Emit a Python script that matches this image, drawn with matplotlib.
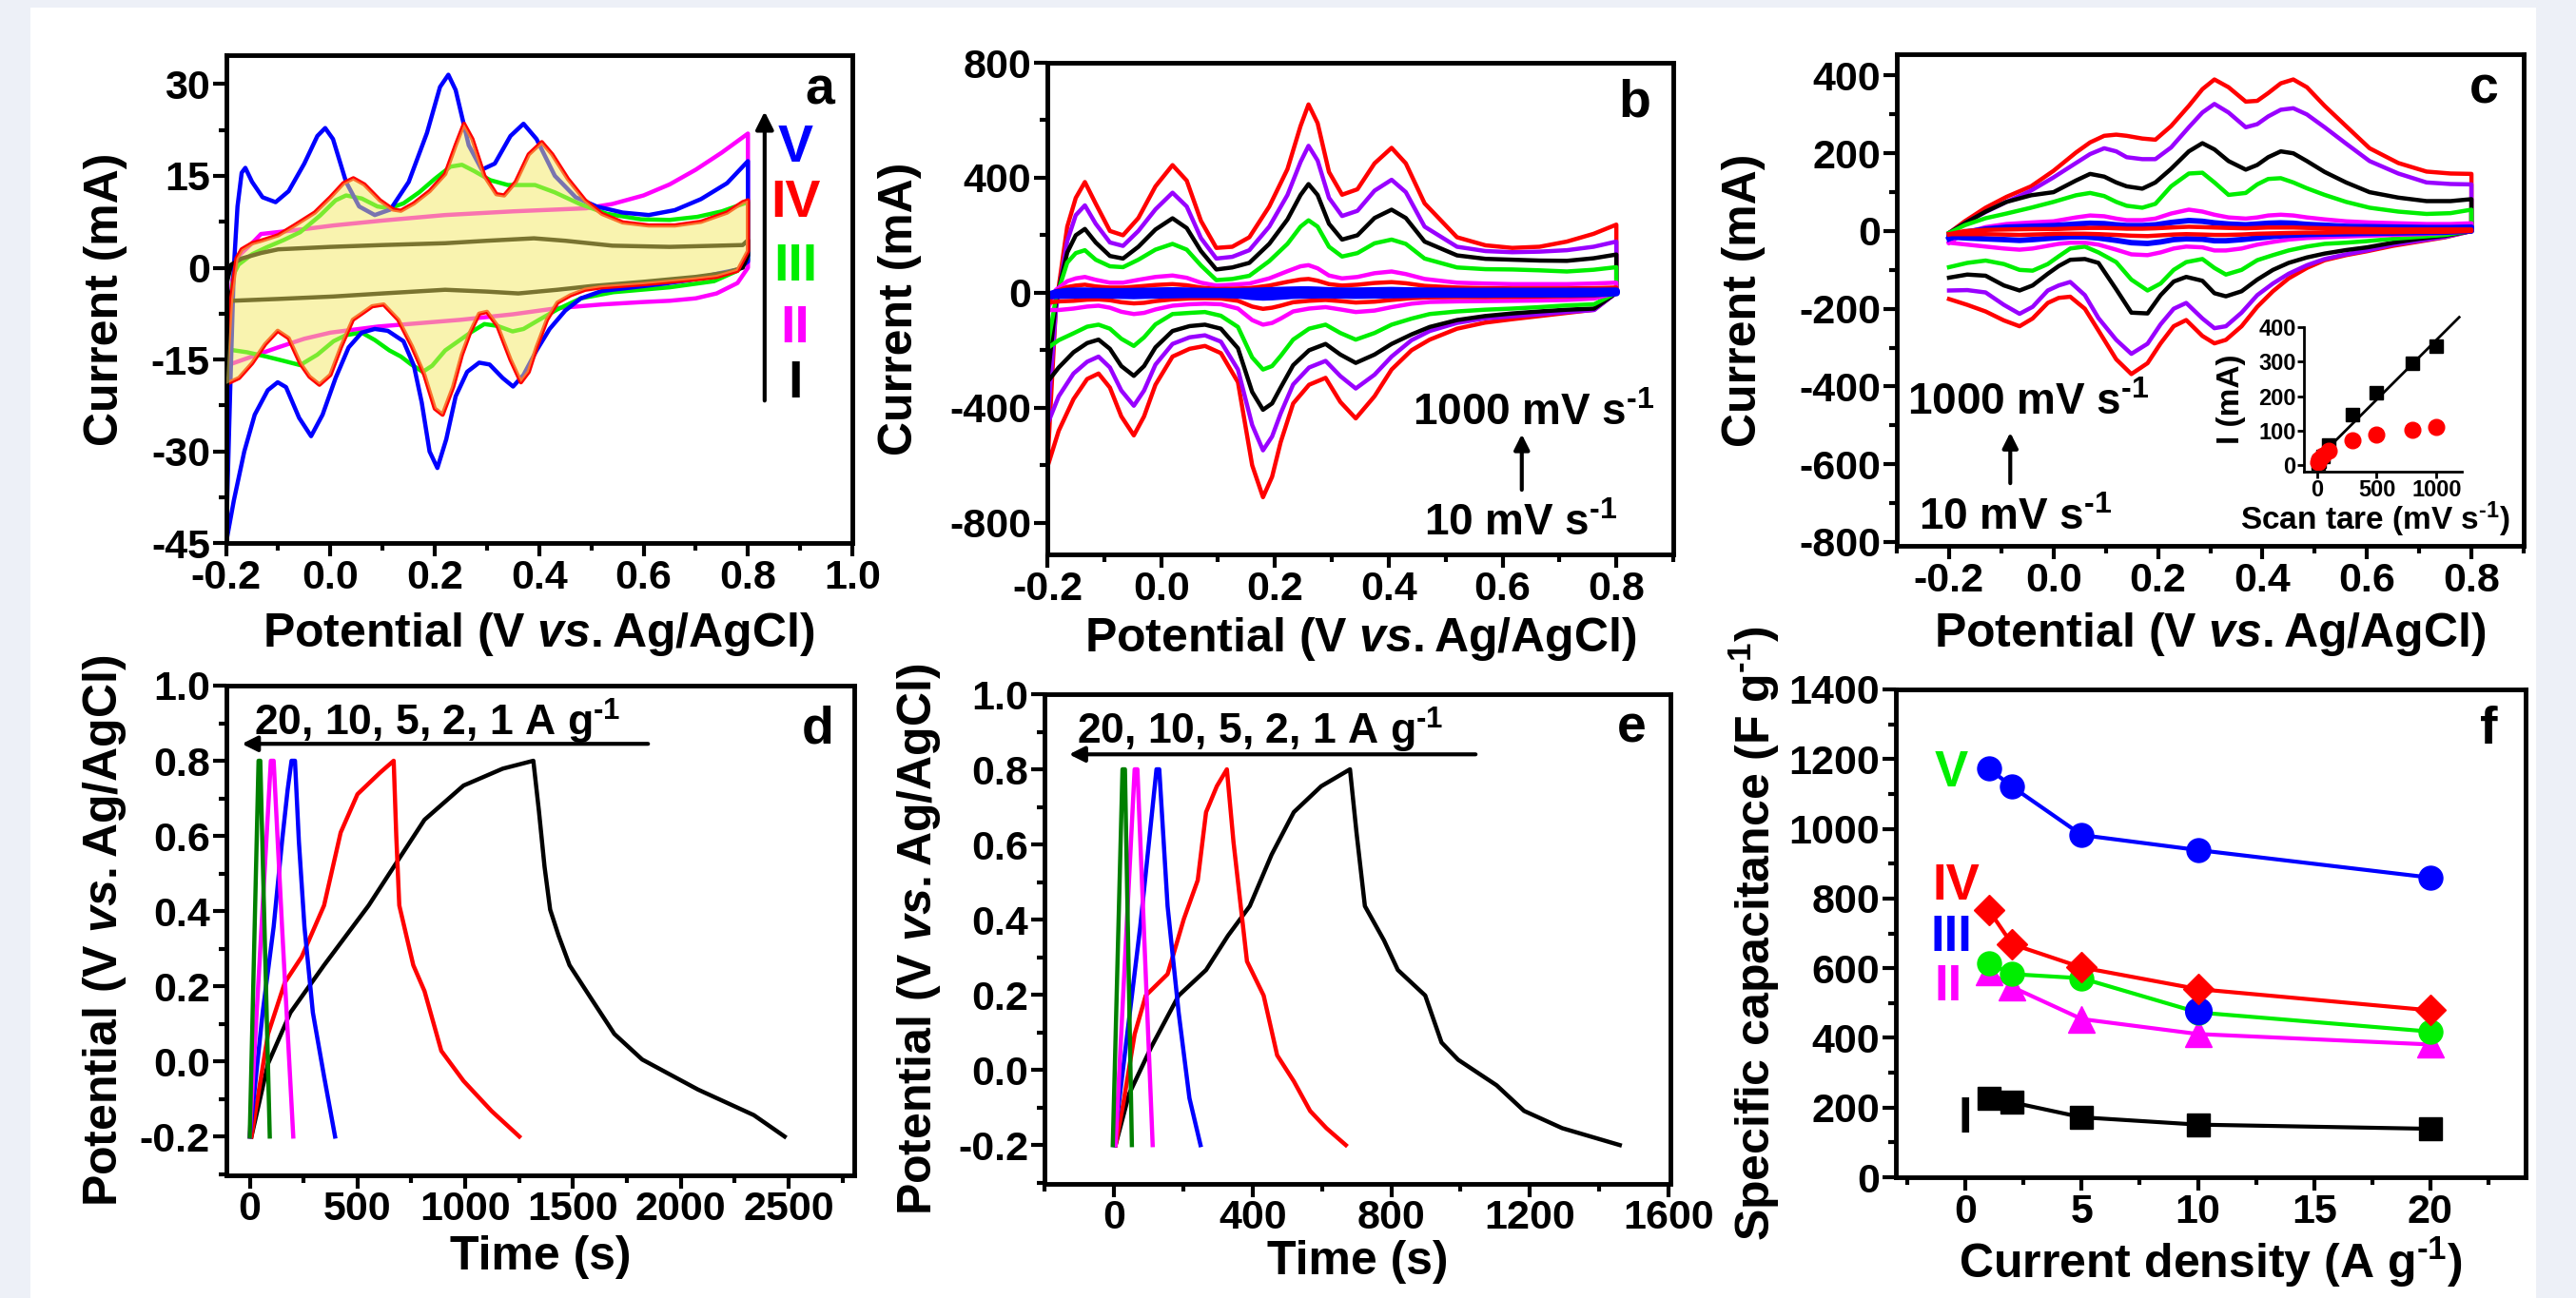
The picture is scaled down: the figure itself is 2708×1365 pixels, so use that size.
import numpy as np
import matplotlib
matplotlib.use('Agg')
import matplotlib.pyplot as plt
from matplotlib.ticker import MultipleLocator, FormatStrFormatter
from matplotlib.patches import Rectangle

# ---------------- Panel a : CV of samples I-V ----------------
a_V_E_up = [-0.200, -0.192, -0.185, -0.178, -0.170, -0.163, -0.150, -0.130, -0.105, -0.080, -0.050, -0.025, -0.010, 0.005, 0.030, 0.055, 0.085, 0.115, 0.150, 0.185, 0.210, 0.226, 0.240, 0.265, 0.290, 0.315, 0.345, 0.370, 0.395, 0.430, 0.470, 0.510, 0.560, 0.610, 0.660, 0.710, 0.760, 0.800]
a_V_I_up = [-45, -20, 0, 10, 15.5, 16.3, 14, 11.5, 10.7, 12.5, 17, 21.5, 22.8, 21, 14, 10, 8.6, 9.5, 14, 22, 29.5, 31.5, 29, 20, 16, 17, 21.5, 23.5, 21, 15, 11.5, 10, 9, 8.6, 9.4, 11.2, 13.8, 17.4]
a_V_E_dn = [0.800, 0.780, 0.740, 0.690, 0.640, 0.580, 0.520, 0.480, 0.450, 0.420, 0.395, 0.370, 0.350, 0.330, 0.305, 0.285, 0.262, 0.240, 0.222, 0.205, 0.190, 0.175, 0.160, 0.140, 0.110, 0.085, 0.060, 0.035, 0.010, -0.015, -0.037, -0.060, -0.085, -0.101, -0.120, -0.145, -0.165, -0.185, -0.200]
a_V_I_dn = [1.0, -0.3, -1.0, -2.0, -2.6, -3.2, -3.8, -5.0, -7.0, -10.0, -13.5, -17.5, -19.4, -18, -15.8, -15.5, -17, -21, -28, -32.7, -30, -22, -16, -12, -10.3, -10, -10.6, -13, -18, -24, -27.5, -24.5, -19.5, -18.7, -20, -24, -30, -38, -45]

a_IV_E_up = [-0.200, -0.190, -0.180, -0.170, -0.150, -0.133, -0.100, -0.069, -0.030, 0.000, 0.025, 0.044, 0.065, 0.095, 0.120, 0.135, 0.160, 0.190, 0.220, 0.240, 0.256, 0.272, 0.295, 0.318, 0.333, 0.355, 0.380, 0.405, 0.425, 0.455, 0.488, 0.520, 0.560, 0.610, 0.660, 0.710, 0.760, 0.790, 0.800]
a_IV_I_up = [-19, -5, 1.5, 3, 4.0, 4.4, 5.3, 6.9, 9, 11.5, 13.8, 14.6, 13.6, 11, 9.5, 9.3, 10.5, 12.5, 15.3, 20, 23.5, 21, 15, 12, 11.8, 14, 18.5, 20.5, 18.5, 14.5, 11, 8.8, 7.4, 6.9, 6.9, 7.5, 9.0, 10.7, 11]
a_IV_E_dn = [0.800, 0.780, 0.740, 0.700, 0.600, 0.520, 0.488, 0.460, 0.435, 0.415, 0.395, 0.380, 0.365, 0.345, 0.320, 0.300, 0.285, 0.268, 0.252, 0.235, 0.215, 0.200, 0.180, 0.156, 0.130, 0.102, 0.080, 0.060, 0.043, 0.020, 0.000, -0.021, -0.040, -0.058, -0.080, -0.101, -0.125, -0.150, -0.175, -0.200]
a_IV_I_dn = [2.7, -0.5, -1.5, -1.9, -2.7, -3.2, -3.6, -4.5, -5.7, -8.5, -13, -17, -18.7, -15, -9.5, -7.2, -7.5, -10.5, -14.2, -19.5, -24, -23, -17.5, -12.8, -8.5, -6, -6.3, -7.5, -8.5, -13, -17.5, -19.1, -17.8, -15.6, -11.5, -10.3, -12.5, -15.6, -18, -19]

a_III_E_up = [-0.200, -0.192, -0.185, -0.176, -0.150, -0.123, -0.090, -0.058, -0.020, 0.010, 0.030, 0.060, 0.090, 0.113, 0.140, 0.170, 0.200, 0.230, 0.252, 0.275, 0.306, 0.340, 0.392, 0.430, 0.478, 0.530, 0.595, 0.650, 0.703, 0.750, 0.800]
a_III_I_up = [-13.3, -6, -1, 0.5, 2.2, 3.3, 4.5, 5.8, 8.5, 11, 11.8, 11.3, 10.0, 9.7, 10.5, 12.3, 14.5, 16.5, 16.8, 15.8, 14.3, 13.5, 13.5, 12.3, 10.4, 8.8, 7.9, 7.8, 8.3, 9.2, 10.7]
a_III_E_dn = [0.800, 0.780, 0.735, 0.650, 0.542, 0.480, 0.435, 0.400, 0.370, 0.349, 0.320, 0.295, 0.270, 0.245, 0.220, 0.195, 0.177, 0.155, 0.135, 0.113, 0.085, 0.060, 0.030, 0.006, -0.025, -0.058, -0.090, -0.123, -0.160, -0.200]
a_III_I_dn = [1.3, -0.5, -2.2, -3.2, -4.0, -5.0, -6.8, -8.5, -10.0, -10.4, -9.5, -9.2, -10.5, -12.0, -13.5, -16, -17, -15.8, -14.5, -13.5, -11.8, -10.6, -11.0, -12, -14.2, -15.9, -15.2, -14.5, -13.8, -13.3]

a_II_E_up = [-0.200, -0.195, -0.188, -0.175, -0.150, -0.133, -0.050, 0.006, 0.100, 0.220, 0.350, 0.490, 0.540, 0.600, 0.650, 0.700, 0.750, 0.800]
a_II_I_up = [-16, -8, -2, 2, 4.0, 5.5, 6.3, 6.9, 7.7, 8.6, 9.2, 9.7, 10.4, 11.8, 13.6, 16.0, 18.8, 21.9]
a_II_E_dn = [0.800, 0.780, 0.740, 0.700, 0.650, 0.600, 0.520, 0.435, 0.350, 0.250, 0.092, 0.000, -0.050, -0.100, -0.150, -0.200]
a_II_I_dn = [0.0, -2.5, -4.2, -5.0, -5.4, -5.6, -6.0, -6.6, -7.6, -8.5, -9.6, -10.6, -11.6, -13, -14.5, -16]

a_I_E_up = [-0.200, -0.190, -0.170, -0.133, -0.100, 0.000, 0.100, 0.220, 0.300, 0.390, 0.450, 0.540, 0.650, 0.790, 0.800]
a_I_I_up = [-3, 0.5, 1.5, 2.4, 3.0, 3.4, 3.7, 4.0, 4.4, 4.8, 4.4, 3.6, 3.4, 3.7, 4.5]
a_I_E_dn = [0.800, 0.790, 0.760, 0.700, 0.600, 0.500, 0.435, 0.360, 0.300, 0.220, 0.100, 0.006, -0.100, -0.190, -0.200]
a_I_I_dn = [2.0, 0.0, -0.8, -1.5, -2.3, -3.0, -3.6, -4.2, -3.9, -3.6, -4.2, -4.7, -5.1, -5.4, -3]

a_labels = ['V', 'IV', 'III', 'II', 'I']

# ---------------- Panel b : CV at scan rates ----------------
b_E_up = [-0.200, -0.185, -0.165, -0.150, -0.134, -0.115, -0.090, -0.067, -0.040, -0.010, 0.020, 0.045, 0.070, 0.097, 0.125, 0.155, 0.190, 0.222, 0.245, 0.259, 0.275, 0.295, 0.318, 0.345, 0.375, 0.405, 0.430, 0.463, 0.520, 0.570, 0.617, 0.665, 0.713, 0.760, 0.800]
b_E_dn = [0.800, 0.761, 0.713, 0.665, 0.617, 0.569, 0.520, 0.472, 0.440, 0.405, 0.375, 0.342, 0.315, 0.289, 0.260, 0.232, 0.210, 0.195, 0.179, 0.160, 0.135, 0.105, 0.077, 0.050, 0.020, -0.010, -0.030, -0.048, -0.070, -0.090, -0.110, -0.130, -0.154, -0.180, -0.200]
b_red_up = [-607, -50, 230, 330, 385, 310, 215, 200, 260, 370, 444, 390, 250, 156, 160, 193, 300, 430, 580, 655, 590, 420, 341, 360, 450, 504, 450, 311, 193, 165, 156, 160, 178, 205, 237]
b_red_dn = [0, -59, -70, -81, -92, -104, -125, -163, -200, -267, -360, -437, -380, -296, -320, -385, -520, -640, -711, -600, -311, -210, -185, -195, -222, -320, -430, -496, -430, -330, -281, -300, -370, -480, -607]
b_pur_up = [-459, -60, 180, 270, 304, 240, 175, 163, 215, 290, 348, 300, 190, 119, 125, 148, 230, 340, 455, 511, 460, 330, 267, 285, 355, 393, 350, 230, 160, 145, 141, 143, 148, 160, 178]
b_pur_dn = [0, -60, -67, -75, -82, -89, -105, -133, -165, -222, -285, -333, -290, -237, -260, -319, -420, -500, -548, -460, -267, -170, -148, -155, -178, -250, -340, -393, -340, -260, -222, -240, -281, -360, -459]
b_blk_up = [-311, -30, 140, 200, 222, 175, 128, 119, 160, 220, 259, 225, 145, 81, 88, 104, 170, 255, 340, 378, 340, 240, 185, 200, 260, 289, 260, 178, 130, 118, 115, 112, 111, 120, 133]
b_blk_dn = [0, -55, -59, -65, -72, -81, -95, -119, -145, -178, -215, -244, -215, -178, -200, -252, -330, -385, -407, -345, -193, -125, -111, -116, -133, -190, -255, -289, -255, -195, -163, -175, -207, -260, -311]
b_grn_up = [-193, -20, 105, 138, 148, 115, 92, 89, 115, 150, 170, 150, 95, 44, 48, 59, 110, 170, 230, 252, 230, 160, 126, 138, 172, 185, 170, 119, 88, 82, 81, 78, 74, 80, 89]
b_grn_dn = [0, -40, -44, -50, -55, -59, -65, -74, -90, -111, -140, -163, -140, -111, -125, -163, -220, -255, -267, -225, -119, -80, -67, -70, -74, -110, -155, -185, -160, -125, -111, -118, -141, -165, -193]
b_mag_up = [-60, 10, 40, 50, 55, 45, 35, 35, 45, 55, 60, 52, 35, 25, 28, 32, 50, 75, 92, 96, 85, 60, 50, 55, 68, 74, 65, 48, 35, 32, 30, 30, 30, 32, 35]
b_mag_dn = [0, -20, -25, -27, -28, -29, -30, -32, -38, -50, -62, -67, -58, -50, -55, -65, -90, -105, -111, -95, -55, -40, -38, -40, -45, -58, -70, -74, -66, -52, -45, -48, -55, -60, -60]
b_rs_up = [-35, 5, 20, 25, 28, 22, 18, 18, 22, 27, 30, 26, 18, 13, 14, 16, 25, 38, 46, 48, 42, 30, 25, 28, 34, 37, 33, 24, 18, 16, 15, 15, 15, 16, 18]
b_rs_dn = [0, -10, -12, -13, -14, -15, -15, -16, -19, -25, -31, -34, -29, -25, -28, -33, -45, -52, -56, -48, -28, -20, -19, -20, -23, -29, -35, -37, -33, -26, -23, -24, -28, -30, -35]
b_blu_up = [-10, 0, 5, 6, 6, 5, 4, 4, 5, 6, 7, 6, 5, 4, 4, 5, 7, 9, 10, 10, 9, 7, 6, 6, 7, 8, 7, 6, 5, 5, 5, 5, 5, 5, 6]
b_blu_dn = [0, -3, -4, -4, -4, -5, -5, -5, -6, -7, -8, -9, -8, -7, -8, -9, -12, -14, -15, -13, -8, -6, -6, -6, -7, -8, -9, -10, -9, -8, -7, -7, -8, -9, -10]

# ---------------- Panel c : CV at scan rates ----------------
c_E_up = [-0.200, -0.170, -0.130, -0.090, -0.043, 0.000, 0.043, 0.070, 0.097, 0.120, 0.140, 0.170, 0.195, 0.225, 0.259, 0.285, 0.308, 0.335, 0.368, 0.390, 0.411, 0.435, 0.459, 0.485, 0.519, 0.560, 0.605, 0.660, 0.714, 0.760, 0.800]
c_E_dn = [0.800, 0.750, 0.700, 0.650, 0.600, 0.560, 0.519, 0.485, 0.450, 0.420, 0.390, 0.360, 0.330, 0.308, 0.285, 0.254, 0.230, 0.205, 0.180, 0.149, 0.120, 0.086, 0.060, 0.032, 0.010, -0.011, -0.040, -0.065, -0.095, -0.130, -0.165, -0.200]
c_red_up = [-5, 25, 60, 88, 115, 155, 202, 228, 245, 248, 245, 238, 235, 270, 322, 365, 390, 370, 333, 335, 355, 380, 390, 370, 322, 270, 213, 175, 153, 148, 147]
c_red_dn = [0, -16, -27, -38, -52, -62, -75, -95, -122, -155, -195, -245, -280, -289, -270, -229, -245, -289, -340, -368, -330, -256, -200, -169, -172, -185, -225, -245, -230, -207, -190, -175]
c_pur_up = [-5, 20, 49, 75, 104, 138, 175, 198, 213, 205, 190, 185, 185, 215, 267, 305, 327, 305, 267, 275, 295, 312, 316, 300, 267, 225, 180, 148, 125, 121, 120]
c_pur_dn = [0, -15, -25, -35, -50, -60, -72, -88, -110, -135, -165, -210, -245, -250, -225, -185, -200, -240, -290, -316, -280, -224, -165, -131, -140, -153, -195, -213, -190, -158, -152, -153]
c_blk_up = [-5, 20, 50, 75, 92, 100, 130, 147, 140, 125, 115, 109, 125, 160, 205, 226, 210, 180, 158, 170, 190, 205, 200, 180, 152, 125, 100, 86, 77, 77, 82]
c_blk_dn = [0, -12, -20, -30, -42, -49, -58, -68, -82, -100, -125, -155, -168, -160, -128, -118, -130, -165, -212, -210, -150, -82, -72, -74, -90, -110, -140, -153, -140, -115, -112, -120]
c_grn_up = [-5, 15, 33, 45, 60, 75, 92, 98, 90, 75, 65, 60, 70, 115, 148, 150, 125, 93, 98, 120, 134, 136, 125, 110, 93, 75, 60, 50, 44, 46, 55]
c_grn_dn = [0, -10, -15, -20, -26, -30, -33, -40, -50, -62, -75, -100, -112, -95, -72, -80, -100, -135, -153, -125, -80, -55, -40, -45, -65, -85, -102, -100, -85, -76, -82, -93]
c_mag_up = [-30, -5, 10, 18, 22, 25, 35, 40, 38, 32, 28, 28, 32, 45, 55, 50, 42, 35, 32, 35, 40, 42, 40, 35, 30, 25, 22, 20, 18, 18, 20]
c_mag_dn = [0, -5, -8, -10, -12, -14, -16, -18, -22, -28, -35, -45, -50, -50, -42, -40, -45, -55, -62, -60, -48, -35, -30, -30, -33, -38, -45, -48, -45, -40, -35, -30]
c_blu_up = [-20, -3, 5, 10, 12, 14, 18, 20, 19, 16, 14, 14, 16, 22, 27, 25, 21, 18, 16, 18, 20, 21, 20, 17, 15, 12, 11, 10, 9, 9, 10]
c_blu_dn = [0, -3, -4, -5, -6, -7, -8, -9, -11, -14, -18, -22, -25, -25, -21, -20, -22, -28, -32, -30, -24, -18, -15, -15, -17, -19, -22, -24, -22, -20, -18, -15]
c_rs_up = [-8, 0, 3, 4, 5, 5, 7, 8, 8, 7, 6, 6, 7, 9, 11, 10, 9, 8, 7, 8, 9, 9, 9, 8, 7, 6, 5, 4, 4, 4, 4]
c_rs_dn = [0, -2, -2, -3, -3, -3, -4, -4, -5, -6, -7, -9, -10, -10, -9, -8, -9, -11, -13, -12, -10, -8, -7, -7, -7, -8, -9, -10, -9, -8, -8, -8]

# inset of panel c
c_scan = [10, 20, 50, 100, 300, 500, 800, 1000]
c_peak_black = [8, 12, 25, 60, 148, 209, 295, 345]
c_peak_red = [10, 18, 30, 43, 74, 90, 102, 111]

# ---------------- Panel d : GCD ----------------
d_t_k = [8, 85, 189, 345, 552, 655, 811, 992, 1174, 1316, 1342, 1368, 1394, 1433, 1484, 1588, 1692, 1821, 2080, 2339, 2482]
d_V_k = [-0.2, -0.006, 0.130, 0.256, 0.415, 0.506, 0.643, 0.734, 0.779, 0.8, 0.666, 0.518, 0.404, 0.335, 0.256, 0.164, 0.073, 0.005, -0.075, -0.143, -0.2]
d_t_r = [8, 85, 163, 241, 345, 422, 500, 604, 668, 680, 694, 759, 811, 889, 992, 1122, 1251]
d_V_r = [-0.2, 0.073, 0.210, 0.278, 0.415, 0.609, 0.711, 0.768, 0.8, 0.6, 0.415, 0.256, 0.187, 0.028, -0.052, -0.132, -0.2]
d_t_b = [0, 60, 111, 150, 176, 194, 210, 228, 254, 293, 345, 396]
d_V_b = [-0.2, 0.13, 0.358, 0.586, 0.723, 0.8, 0.8, 0.586, 0.358, 0.13, -0.04, -0.2]
d_t_m = [0, 98, 111, 150, 202]
d_V_m = [-0.2, 0.8, 0.8, 0.358, -0.2]
d_t_g = [0, 41, 49, 93]
d_V_g = [-0.2, 0.8, 0.8, -0.2]

# ---------------- Panel e : GCD ----------------
e_t_k = [5, 44, 108, 187, 266, 329, 392, 455, 519, 598, 681, 700, 724, 779, 819, 898, 945, 993, 1104, 1183, 1293, 1459]
e_V_k = [-0.2, -0.064, 0.061, 0.198, 0.266, 0.357, 0.436, 0.573, 0.686, 0.755, 0.8, 0.63, 0.436, 0.345, 0.266, 0.198, 0.073, 0.027, -0.041, -0.109, -0.155, -0.2]
e_t_r = [5, 28, 60, 92, 155, 202, 242, 266, 297, 326, 345, 384, 432, 471, 519, 566, 613, 669]
e_V_r = [-0.2, -0.086, 0.095, 0.198, 0.255, 0.402, 0.505, 0.686, 0.755, 0.8, 0.607, 0.289, 0.198, 0.039, -0.03, -0.109, -0.155, -0.2]
e_t_b = [0, 76, 123, 131, 155, 187, 218, 250]
e_V_b = [-0.2, 0.38, 0.8, 0.8, 0.436, 0.152, -0.075, -0.2]
e_t_m = [5, 60, 68, 112]
e_V_m = [-0.2, 0.8, 0.8, -0.2]
e_t_g = [-3, 25, 32, 52]
e_V_g = [-0.2, 0.8, 0.8, -0.2]

# ---------------- Panel f : specific capacitance ----------------
f_cd = [1, 2, 5, 10, 20]
f_V = [1173, 1121, 982, 939, 860]
f_IV = [767, 669, 602, 540, 479]
f_III = [614, 583, 571, 473, 418]
f_II = [590, 546, 454, 411, 381]
f_I = [227, 215, 172, 151, 139]
f_extra_x = [10]
f_extra_y = [478]

# ====================== drawing ======================
plt.rcParams.update({
    'font.family': ['Liberation Sans', 'DejaVu Sans'],
    'font.weight': 'bold',
    'axes.labelweight': 'bold',
    'axes.unicode_minus': False,
    'mathtext.fontset': 'custom',
    'mathtext.rm': 'Liberation Sans:bold',
    'mathtext.it': 'Liberation Sans:italic:bold',
    'mathtext.bf': 'Liberation Sans:bold',
    'mathtext.default': 'rm',
})

W, H = 2708, 1365
fig = plt.figure(figsize=(W / 100, H / 100), dpi=100)
fig.patch.set_facecolor('#edf0f7')
fig.add_artist(Rectangle((32 / W, 0), (2666 - 32) / W, 1 - 8 / H, transform=fig.transFigure,
                         facecolor='white', edgecolor='none', zorder=-10))

TICK_FS = 31
LAB_FS = 36
LW = 3.2
INV = '$^{\\text{-}1}$'


def make_ax(l, t, r, b):
    ax = fig.add_axes([l / W, 1 - b / H, (r - l) / W, (b - t) / H])
    for s in ax.spines.values():
        s.set_linewidth(3.5)
    ax.tick_params(which='both', direction='out', top=False, right=False, width=3,
                   labelsize=TICK_FS, pad=2)
    ax.tick_params(which='major', length=10)
    ax.tick_params(which='minor', length=6)
    return ax


def labels(ax, xl, yl, xy, yx):
    ax.set_xlabel(xl, fontsize=LAB_FS)
    ax.set_ylabel(yl, fontsize=LAB_FS)
    ax.xaxis.set_label_coords(0.5, xy)
    ax.yaxis.set_label_coords(yx, 0.5)
    ax.xaxis.label.set_va('center')
    ax.yaxis.label.set_va('center')


def letter(ax, s, x, y):
    ax.text(x, y, s, transform=ax.transAxes, fontsize=40, ha='center', va='center')


POT = 'Potential (V $\\mathit{vs.}$Ag/AgCl)'

# ----- a -----
ax = make_ax(237.6, 58, 896, 571.4)
ax.plot(a_II_E_up + a_II_E_dn, a_II_I_up + a_II_I_dn, color='#ff00ff', lw=LW)
ax.plot(a_III_E_up + a_III_E_dn, a_III_I_up + a_III_I_dn, color='#00ee00', lw=LW)
ax.plot(a_V_E_up + a_V_E_dn, a_V_I_up + a_V_I_dn, color='#0000ff', lw=LW)
ax.plot(a_I_E_up + a_I_E_dn, a_I_I_up + a_I_I_dn, color='black', lw=LW)
ax.plot(a_IV_E_up + a_IV_E_dn, a_IV_I_up + a_IV_I_dn, color='#ff0000', lw=LW)
ax.fill(a_IV_E_up + a_IV_E_dn, a_IV_I_up + a_IV_I_dn, facecolor='#f4e860', alpha=0.5,
        edgecolor='none', zorder=3)
ax.set_xlim(-0.2, 1.0)
ax.set_ylim(-45, 34.7)
ax.xaxis.set_major_locator(MultipleLocator(0.2))
ax.xaxis.set_minor_locator(MultipleLocator(0.1))
ax.xaxis.set_major_formatter(FormatStrFormatter('%.1f'))
ax.yaxis.set_major_locator(MultipleLocator(15))
ax.yaxis.set_minor_locator(MultipleLocator(7.5))
labels(ax, POT, 'Current (mA)', -0.186, -0.193)
letter(ax, 'a', 0.948, 0.926)
a_cols = ['#0000ff', '#ff0000', '#00ee00', '#ff00ff', 'black']
a_ys = [0.809, 0.696, 0.565, 0.439, 0.326]
for lab, c, yy in zip(a_labels, a_cols, a_ys):
    ax.text(0.909, yy, lab, color=c, transform=ax.transAxes, fontsize=40, ha='center', va='center')
ax.annotate('', xy=(0.86, 0.89), xytext=(0.86, 0.287), xycoords='axes fraction',
            arrowprops=dict(arrowstyle='-|>', lw=3, color='black', mutation_scale=28))

# ----- b -----
ax = make_ax(1101, 66, 1759, 583)
for up, dn, c, lw in [(b_red_up, b_red_dn, '#ff0000', LW), (b_pur_up, b_pur_dn, '#9900ff', LW),
                      (b_blk_up, b_blk_dn, 'black', LW), (b_grn_up, b_grn_dn, '#00ee00', LW),
                      (b_mag_up, b_mag_dn, '#ff00ff', LW), (b_rs_up, b_rs_dn, '#ff0000', LW),
                      (b_blu_up, b_blu_dn, '#0000ff', 5.5)]:
    ax.plot(b_E_up + b_E_dn, up + dn, color=c, lw=lw)
ax.set_xlim(-0.2, 0.9)
ax.set_ylim(-910, 800)
ax.xaxis.set_major_locator(MultipleLocator(0.2))
ax.xaxis.set_minor_locator(MultipleLocator(0.1))
ax.xaxis.set_major_formatter(FormatStrFormatter('%.1f'))
ax.yaxis.set_major_locator(MultipleLocator(400))
ax.yaxis.set_minor_locator(MultipleLocator(200))
labels(ax, POT, 'Current (mA)', -0.172, -0.236)
letter(ax, 'b', 0.938, 0.917)
ax.text(0.584, 0.286, '1000 mV s' + INV, transform=ax.transAxes, fontsize=33, ha='left', va='center')
ax.text(0.602, 0.062, '10 mV s' + INV, transform=ax.transAxes, fontsize=33, ha='left', va='center')
ax.annotate('', xy=(0.758, 0.25), xytext=(0.758, 0.126), xycoords='axes fraction',
            arrowprops=dict(arrowstyle='-|>', lw=3, color='black', mutation_scale=24))

# ----- c -----
ax = make_ax(1994, 57, 2653, 574)
for up, dn, c, lw in [(c_red_up, c_red_dn, '#ff0000', LW), (c_pur_up, c_pur_dn, '#9900ff', LW),
                      (c_blk_up, c_blk_dn, 'black', LW), (c_grn_up, c_grn_dn, '#00ee00', LW),
                      (c_mag_up, c_mag_dn, '#ff00ff', LW), (c_blu_up, c_blu_dn, '#0000ff', LW + 1),
                      (c_rs_up, c_rs_dn, '#ff0000', LW)]:
    ax.plot(c_E_up + c_E_dn, up + dn, color=c, lw=lw)
ax.set_xlim(-0.3, 0.9)
ax.set_ylim(-810, 455)
ax.set_xticks([-0.2, 0.0, 0.2, 0.4, 0.6, 0.8])
ax.xaxis.set_minor_locator(MultipleLocator(0.1))
ax.xaxis.set_major_formatter(FormatStrFormatter('%.1f'))
ax.yaxis.set_major_locator(MultipleLocator(200))
ax.yaxis.set_minor_locator(MultipleLocator(100))
labels(ax, POT, 'Current (mA)', -0.18, -0.245)
letter(ax, 'c', 0.936, 0.928)
ax.text(0.017, 0.29, '1000 mV s' + INV, transform=ax.transAxes, fontsize=33, ha='left', va='center')
ax.text(0.035, 0.056, '10 mV s' + INV, transform=ax.transAxes, fontsize=33, ha='left', va='center')
ax.annotate('', xy=(0.181, 0.236), xytext=(0.181, 0.122), xycoords='axes fraction',
            arrowprops=dict(arrowstyle='-|>', lw=3, color='black', mutation_scale=24))

ins = fig.add_axes([2422 / W, 1 - 496 / H, (2588 - 2422) / W, (496 - 344) / H])
ins.patch.set_alpha(0)
for s in ['top', 'right']:
    ins.spines[s].set_visible(False)
for s in ['left', 'bottom']:
    ins.spines[s].set_linewidth(2)
ins.tick_params(direction='out', length=5, width=2, labelsize=17, pad=1)
p = np.polyfit(c_scan, c_peak_black, 1)
xx = np.array([-40, 1190])
ins.plot(xx, np.polyval(p, xx), color='black', lw=2, clip_on=False)
ins.plot(c_scan, c_peak_black, 's', color='black', ms=10, clip_on=False)
ins.plot(c_scan, c_peak_red, 'o', color='#ff0000', ms=12, clip_on=False)
ins.set_xlim(-108, 1212)
ins.set_ylim(-18, 400)
ins.set_xticks([0, 500, 1000])
ins.set_yticks([0, 100, 200, 300, 400])
ins.set_xlabel('Scan tare (mV s' + INV + ')', fontsize=24)
ins.set_ylabel('I (mA)', fontsize=24)
ins.xaxis.set_label_coords(0.45, -0.33)
ins.yaxis.set_label_coords(-0.46, 0.5)
ins.xaxis.label.set_va('center')
ins.yaxis.label.set_va('center')

# ----- d -----
GCD_A = '20, 10, 5, 2, 1 A g' + INV
ax = make_ax(237.6, 721, 898, 1235.5)
ax.plot(d_t_k, d_V_k, color='black', lw=LW)
ax.plot(d_t_r, d_V_r, color='#ff0000', lw=LW)
ax.plot(d_t_b, d_V_b, color='#0000ff', lw=LW)
ax.plot(d_t_m, d_V_m, color='#ff00ff', lw=LW)
ax.plot(d_t_g, d_V_g, color='#008000', lw=LW)
ax.set_xlim(-110, 2805)
ax.set_ylim(-0.302, 1.0)
ax.xaxis.set_major_locator(MultipleLocator(500))
ax.xaxis.set_minor_locator(MultipleLocator(250))
ax.yaxis.set_major_locator(MultipleLocator(0.2))
ax.yaxis.set_minor_locator(MultipleLocator(0.1))
ax.yaxis.set_major_formatter(FormatStrFormatter('%.1f'))
labels(ax, 'Time (s)', POT, -0.168, -0.193)
letter(ax, 'd', 0.942, 0.909)
ax.text(0.044, 0.926, GCD_A, transform=ax.transAxes, fontsize=32, ha='left', va='center')
ax.annotate('', xy=(0.021, 0.881), xytext=(0.676, 0.881), xycoords='axes fraction',
            arrowprops=dict(arrowstyle='-|>', lw=3, color='black', mutation_scale=24))

# ----- e -----
ax = make_ax(1098, 730, 1756, 1244.5)
ax.plot(e_t_k, e_V_k, color='black', lw=LW)
ax.plot(e_t_r, e_V_r, color='#ff0000', lw=LW)
ax.plot(e_t_b, e_V_b, color='#0000ff', lw=LW)
ax.plot(e_t_m, e_V_m, color='#ff00ff', lw=LW)
ax.plot(e_t_g, e_V_g, color='#008000', lw=LW)
ax.set_xlim(-200, 1605)
ax.set_ylim(-0.302, 1.0)
ax.xaxis.set_major_locator(MultipleLocator(400))
ax.xaxis.set_minor_locator(MultipleLocator(200))
ax.yaxis.set_major_locator(MultipleLocator(0.2))
ax.yaxis.set_minor_locator(MultipleLocator(0.1))
ax.yaxis.set_major_formatter(FormatStrFormatter('%.1f'))
labels(ax, 'Time (s)', POT, -0.16, -0.20)
letter(ax, 'e', 0.938, 0.93)
ax.text(0.052, 0.926, GCD_A, transform=ax.transAxes, fontsize=32, ha='left', va='center')
ax.annotate('', xy=(0.035, 0.877), xytext=(0.693, 0.877), xycoords='axes fraction',
            arrowprops=dict(arrowstyle='-|>', lw=3, color='black', mutation_scale=24))

# ----- f -----
ax = make_ax(1993, 725, 2655, 1238)
ax.plot(f_cd, f_I, '-s', color='black', ms=17, lw=3)
ax.plot(f_cd, f_II, '-^', color='#ff00ff', ms=20, lw=3)
ax.plot(f_cd, f_III, '-o', color='#00ee00', ms=18, lw=3)
ax.plot(f_extra_x, f_extra_y, 'o', color='#0000ff', ms=20)
ax.plot(f_cd, f_IV, '-D', color='#ff0000', ms=16, lw=3)
ax.plot(f_cd, f_V, '-o', color='#0000ff', ms=18, lw=3)
ax.set_xlim(-3, 24.1)
ax.set_ylim(0, 1400)
ax.xaxis.set_major_locator(MultipleLocator(5))
ax.xaxis.set_minor_locator(MultipleLocator(2.5))
ax.yaxis.set_major_locator(MultipleLocator(200))
ax.yaxis.set_minor_locator(MultipleLocator(100))
labels(ax, 'Current density (A g' + INV + ')', 'Specific capacitance (F g' + INV + ')', -0.175, -0.224)
letter(ax, 'f', 0.941, 0.916)
for s, c, x, y in [('V', '#00ee00', -0.6, 1160), ('IV', '#ff0000', -0.4, 835),
                   ('III', '#0000ff', -0.6, 688), ('II', '#ff00ff', -0.75, 546),
                   ('I', 'black', 0.0, 166)]:
    ax.text(x, y, s, color=c, fontsize=38, ha='center', va='center')

fig.savefig('out.png', dpi=100, facecolor=fig.get_facecolor())
